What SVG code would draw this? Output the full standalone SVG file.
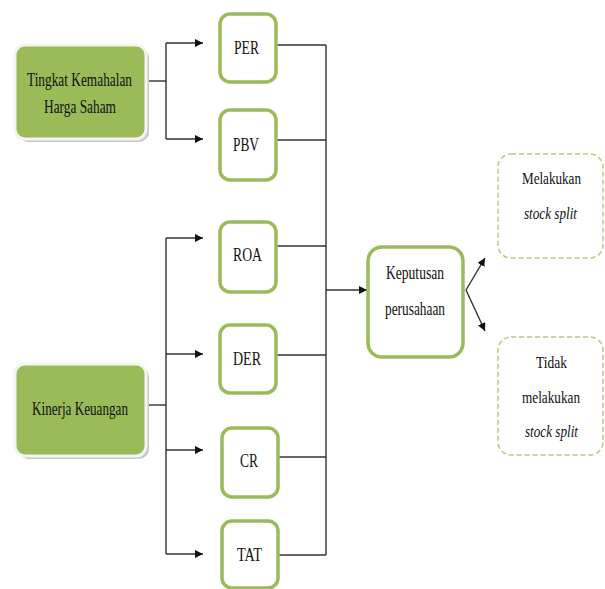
<svg xmlns="http://www.w3.org/2000/svg" width="605" height="589" viewBox="0 0 605 589">
<defs>
<style>
.t{font-family:"Liberation Serif","Times New Roman",serif;font-size:19px;fill:#111}
.s{font-size:17.5px}
.i{font-style:italic}
.src{fill:#9BBB59;stroke:#f4f4f4;stroke-width:3}
.sh{fill:#c8c8c8}
.box{fill:#fff;stroke:#9BBB59;stroke-width:3.5}
.dash{fill:#fff;stroke:#b4cf84;stroke-width:1.6;stroke-dasharray:5 3}
.ln{fill:none;stroke:#333;stroke-width:1.4}
</style>
<marker id="ah" viewBox="0 0 10 10" refX="10" refY="5" markerWidth="8" markerHeight="8" markerUnits="userSpaceOnUse" orient="auto">
<path d="M0,0 L10,5 L0,10 z" fill="#111"/>
</marker>
</defs>
<g id="connectors">
<path class="ln" d="M146,81 H166"/>
<path class="ln" d="M166,43 V139"/>
<path class="ln" d="M166,43 H203" marker-end="url(#ah)"/>
<path class="ln" d="M166,139 H203" marker-end="url(#ah)"/>
<path class="ln" d="M146,405 H166"/>
<path class="ln" d="M166,238 V554"/>
<path class="ln" d="M166,238 H203" marker-end="url(#ah)"/>
<path class="ln" d="M166,354 H203" marker-end="url(#ah)"/>
<path class="ln" d="M166,450 H203" marker-end="url(#ah)"/>
<path class="ln" d="M166,554 H203" marker-end="url(#ah)"/>
<path class="ln" d="M276,45 H326"/>
<path class="ln" d="M276,140 H326"/>
<path class="ln" d="M276,246 H326"/>
<path class="ln" d="M276,355 H326"/>
<path class="ln" d="M278,457 H326"/>
<path class="ln" d="M278,555 H326"/>
<path class="ln" d="M326,45 V555"/>
<path class="ln" d="M326,290 H367" marker-end="url(#ah)"/>
<path class="ln" d="M466,290 L485,258" marker-end="url(#ah)"/>
<path class="ln" d="M466,290 L485,331" marker-end="url(#ah)"/>
</g>
<g id="tingkat">
<rect class="sh" x="18" y="48" width="131" height="94" rx="10"/>
<rect class="src" x="15" y="45" width="131" height="94" rx="10"/>
<text class="t" x="27" y="86" textLength="105" lengthAdjust="spacingAndGlyphs">Tingkat Kemahalan</text>
<text class="t" x="44" y="113" textLength="72" lengthAdjust="spacingAndGlyphs">Harga Saham</text>
</g>
<g id="kinerja">
<rect class="sh" x="18" y="367" width="131" height="92" rx="10"/>
<rect class="src" x="15" y="364" width="131" height="92" rx="10"/>
<text class="t" x="32" y="415" textLength="96" lengthAdjust="spacingAndGlyphs">Kinerja Keuangan</text>
</g>
<g id="per">
<rect class="box" x="220" y="14" width="56" height="68" rx="10"/>
<text class="t" x="234" y="54" textLength="25" lengthAdjust="spacingAndGlyphs">PER</text>
</g>
<g id="pbv">
<rect class="box" x="220" y="110" width="56" height="70" rx="10"/>
<text class="t" x="233" y="151" textLength="26" lengthAdjust="spacingAndGlyphs">PBV</text>
</g>
<g id="roa">
<rect class="box" x="220" y="222" width="56" height="70" rx="10"/>
<text class="t" x="233" y="261" textLength="29" lengthAdjust="spacingAndGlyphs">ROA</text>
</g>
<g id="der">
<rect class="box" x="220" y="325" width="56" height="68" rx="10"/>
<text class="t" x="233" y="365" textLength="28" lengthAdjust="spacingAndGlyphs">DER</text>
</g>
<g id="cr">
<rect class="box" x="222" y="428" width="56" height="69" rx="10"/>
<text class="t" x="240" y="467" textLength="18" lengthAdjust="spacingAndGlyphs">CR</text>
</g>
<g id="tat">
<rect class="box" x="222" y="521" width="56" height="67" rx="10"/>
<text class="t" x="237" y="561" textLength="25" lengthAdjust="spacingAndGlyphs">TAT</text>
</g>
<g id="keputusan">
<rect class="box" x="368" y="247" width="95" height="110" rx="14"/>
<text class="t" x="386" y="279" textLength="58" lengthAdjust="spacingAndGlyphs">Keputusan</text>
<text class="t" x="385" y="315" textLength="60" lengthAdjust="spacingAndGlyphs">perusahaan</text>
</g>
<g id="melakukan">
<rect class="dash" x="498" y="154" width="105" height="104" rx="13"/>
<text class="t s" x="522" y="184" textLength="59" lengthAdjust="spacingAndGlyphs">Melakukan</text>
<text class="t s i" x="524" y="219" textLength="53" lengthAdjust="spacingAndGlyphs">stock split</text>
</g>
<g id="tidak">
<rect class="dash" x="498" y="337" width="105" height="118" rx="13"/>
<text class="t s" x="536" y="368" textLength="31" lengthAdjust="spacingAndGlyphs">Tidak</text>
<text class="t s" x="522" y="403" textLength="58" lengthAdjust="spacingAndGlyphs">melakukan</text>
<text class="t s i" x="525" y="437" textLength="53" lengthAdjust="spacingAndGlyphs">stock split</text>
</g>
</svg>
